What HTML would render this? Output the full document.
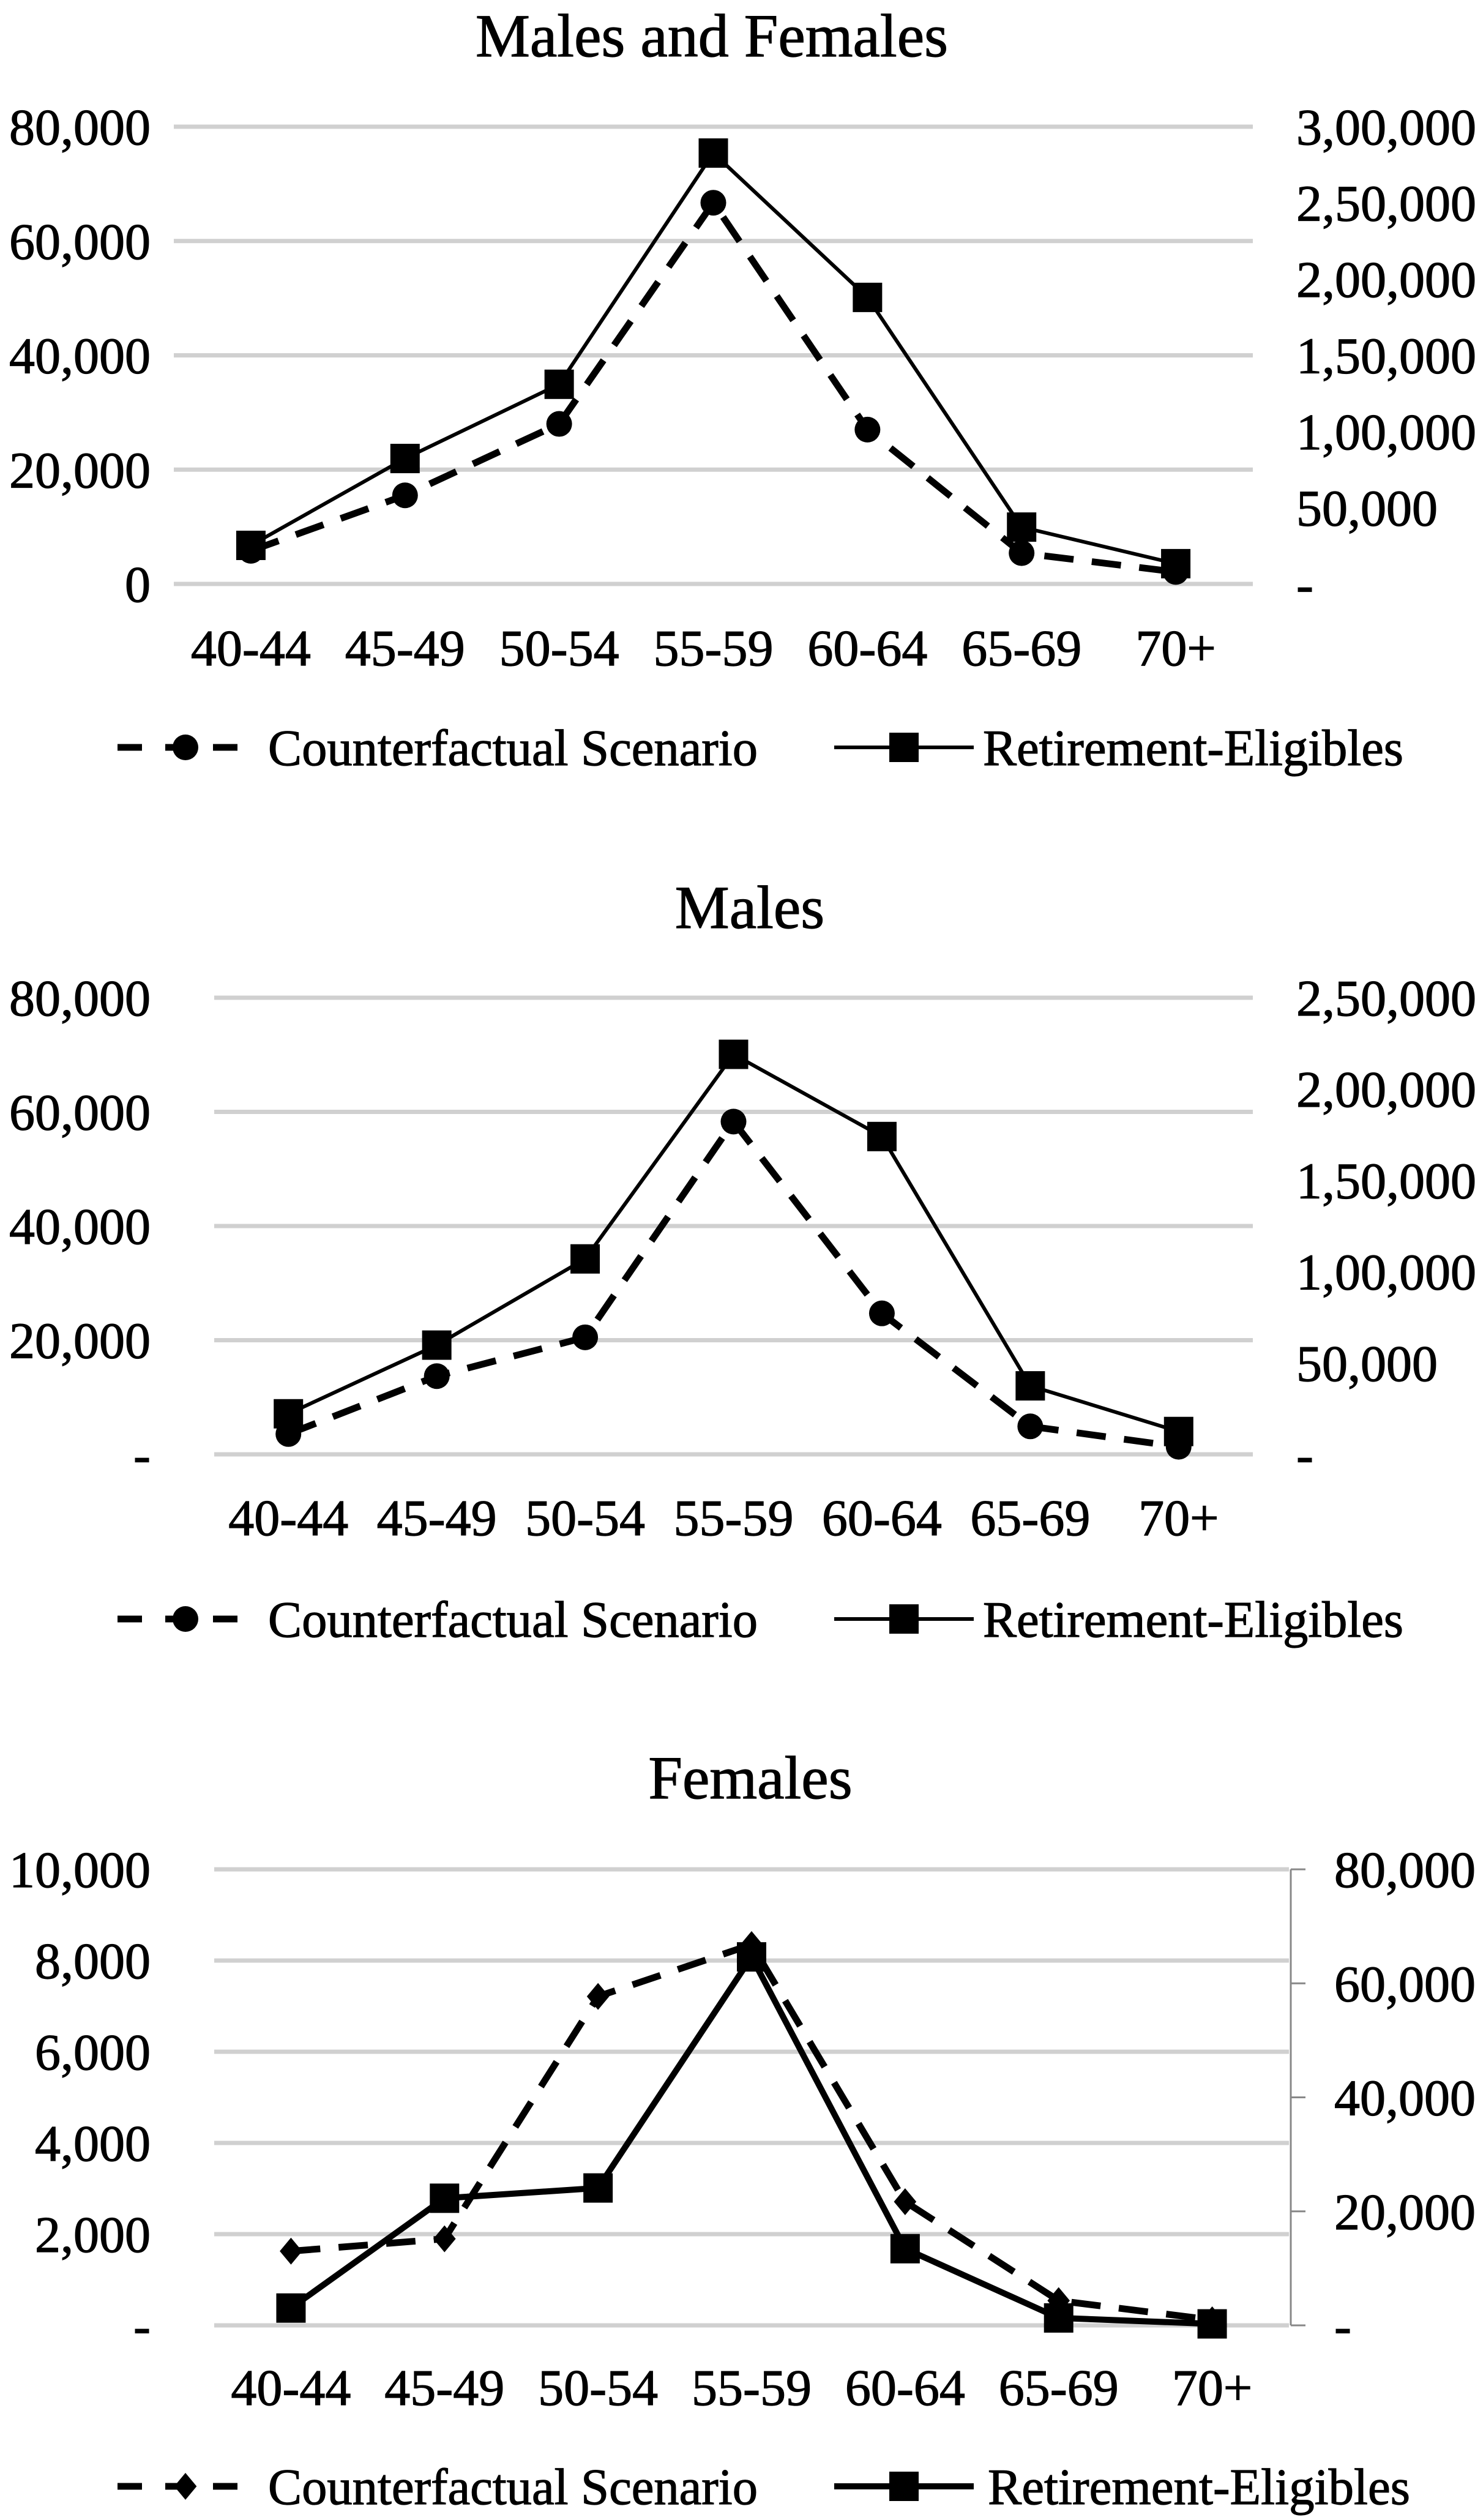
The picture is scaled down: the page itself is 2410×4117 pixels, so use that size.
<!DOCTYPE html>
<html><head><meta charset="utf-8"><style>
html,body{margin:0;padding:0;background:#fff;}
svg{display:block;}
text{font-family:"Liberation Serif","Times New Roman",serif;fill:#000;}
</style></head><body>
<svg id="root" xmlns="http://www.w3.org/2000/svg" width="2410" height="4117" viewBox="0 0 2410 4117"></svg>
<script>
const categories = ["40-44","45-49","50-54","55-59","60-64","65-69","70+"];
// Chart 1: Males and Females
const c1Counterfactual = [5800, 15500, 28000, 66700, 27000, 5400, 2100];
const c1Retirement = [25300, 82300, 131000, 282700, 188000, 37300, 13300];
const c1LeftTicks = ["0","20,000","40,000","60,000","80,000"];
const c1LeftTickValues = [0,20000,40000,60000,80000];
const c1RightTicks = ["-","50,000","1,00,000","1,50,000","2,00,000","2,50,000","3,00,000"];
const c1RightTickValues = [0,50000,100000,150000,200000,250000,300000];
// Chart 2: Males
const c2Counterfactual = [3560, 13700, 20500, 58300, 24700, 4900, 1330];
const c2Retirement = [22200, 59800, 107000, 219000, 174000, 37500, 12500];
const c2LeftTicks = ["-","20,000","40,000","60,000","80,000"];
const c2LeftTickValues = [0,20000,40000,60000,80000];
const c2RightTicks = ["-","50,000","1,00,000","1,50,000","2,00,000","2,50,000"];
const c2RightTickValues = [0,50000,100000,150000,200000,250000];
// Chart 3: Females
const c3Counterfactual = [1627, 1898, 7213, 8351, 2711, 542, 120];
const c3Retirement = [3037, 22300, 24100, 64640, 13450, 1300, 260];
const c3LeftTicks = ["-","2,000","4,000","6,000","8,000","10,000"];
const c3LeftTickValues = [0,2000,4000,6000,8000,10000];
const c3RightTicks = ["-","20,000","40,000","60,000","80,000"];
const c3RightTickValues = [0,20000,40000,60000,80000];

const NS = "http://www.w3.org/2000/svg";
const root = document.getElementById("root");
function mk(tag, attrs, parent){
  const e = document.createElementNS(NS, tag);
  for (const k in attrs) e.setAttribute(k, attrs[k]);
  (parent||root).appendChild(e);
  return e;
}
function marker(g, kind, x, y, s){
  let m;
  if (kind==="square"){
    m = mk("rect",{x:x-s/2,y:y-s/2,width:s,height:s,fill:"#000"},g);
  } else if (kind==="circle"){
    m = mk("circle",{cx:x,cy:y,r:s/2,fill:"#000"},g);
  } else {
    m = mk("polygon",{points:`${x},${y-s/2} ${x+s/2.4},${y} ${x},${y+s/2} ${x-s/2.4},${y}`,fill:"#000"},g);
  }
  return m;
}
function txt(g, attrs, s){
  const t = mk("text", Object.assign({stroke:"#000","stroke-width":1.2}, attrs), g);
  t.textContent = s;
  return t;
}
function drawChart(cfg){
  const g = mk("g",{});
  
  
  const n = categories.length;
  const bw = (cfg.plotR - cfg.plotL)/n;
  const xs = i => cfg.plotL + bw*(i+0.5);
  const yl = v => cfg.yBot - (v/cfg.leftMax)*(cfg.yBot-cfg.yTop);
  const yr = v => cfg.yBot - (v/cfg.rightMax)*(cfg.yBot-cfg.yTop);
  const t = txt(g,{x:cfg.titleX,y:cfg.titleY+36,"text-anchor":"middle","font-size":100}, cfg.title);
  
  
  cfg.leftVals.forEach((v,i)=>{
    const gl = mk("line",{x1:cfg.plotL,x2:cfg.plotR,y1:yl(v),y2:yl(v),stroke:"#d0d0d0","stroke-width":7},g);
    
    
    const tl = txt(g,{x:246,y:yl(v)+29,"text-anchor":"end","font-size":84}, cfg.leftTicks[i]);
    
    
  });
  if (cfg.rightAxis){
    const ax = mk("line",{x1:cfg.plotR+3,x2:cfg.plotR+3,y1:cfg.yTop,y2:cfg.yBot,stroke:"#888","stroke-width":3},g);
    
    
  }
  cfg.rightVals.forEach((v,i)=>{
    if (cfg.rightAxis){
      const tk = mk("line",{x1:cfg.plotR+3,x2:cfg.plotR+27,y1:yr(v),y2:yr(v),stroke:"#888","stroke-width":3},g);
      
      
    }
    const tr = txt(g,{x:cfg.rightLabelX,y:yr(v)+29,"text-anchor":"start","font-size":84}, cfg.rightTicks[i]);
    
    
  });
  categories.forEach((c,i)=>{
    const xl = txt(g,{x:xs(i),y:cfg.xLabelY+29,"text-anchor":"middle","font-size":84}, c);
    
    
  });
  const cPts = cfg.counter.map((v,i)=>`${xs(i)},${yl(v)}`).join(" ");
  const cl = mk("polyline",{points:cPts,fill:"none",stroke:"#000","stroke-width":11,"stroke-dasharray":"48 30"},g);
  
  
  cfg.counter.forEach((v,i)=>{
    const m = marker(g, cfg.cMarker, xs(i), yl(v), cfg.cMarker==="circle"?42:44);
    
    
  });
  const rPts = cfg.retire.map((v,i)=>`${xs(i)},${yr(v)}`).join(" ");
  const rl = mk("polyline",{points:rPts,fill:"none",stroke:"#000","stroke-width":cfg.rWidth},g);
  
  
  cfg.retire.forEach((v,i)=>{
    const m = marker(g, "square", xs(i), yr(v), 48);
    
    
  });
  const lg = mk("g",{},g);
  
  
  const ly = cfg.legendY;
  mk("line",{x1:192,x2:415,y1:ly,y2:ly,stroke:"#000","stroke-width":11,"stroke-dasharray":"40 38"},lg);
  marker(lg, cfg.cMarker, 303, ly, cfg.cMarker==="circle"?42:44);
  const lt1 = txt(lg,{x:438,y:ly+29,"font-size":84,textLength:800,lengthAdjust:"spacingAndGlyphs"}, "Counterfactual Scenario");
  
  
  mk("line",{x1:1363,x2:1591,y1:ly,y2:ly,stroke:"#000","stroke-width":cfg.rWidth},lg);
  marker(lg, "square", 1477, ly, 48);
  const lt2 = txt(lg,{x:cfg.leg2X,y:ly+29,"font-size":84,textLength:cfg.leg2W,lengthAdjust:"spacingAndGlyphs"}, "Retirement-Eligibles");
  
  
}
drawChart({name:"chart-males-and-females",title:"Males and Females",titleX:1163,titleY:56,
  plotL:284,plotR:2047,yTop:207,yBot:954,leftMax:80000,rightMax:300000,
  leftTicks:c1LeftTicks,leftVals:c1LeftTickValues,rightTicks:c1RightTicks,rightVals:c1RightTickValues,
  rightLabelX:2118,rightAxis:false,xLabelY:1058,legendY:1221,leg2X:1606,leg2W:687,
  counter:c1Counterfactual,retire:c1Retirement,cMarker:"circle",rWidth:6});
drawChart({name:"chart-males",title:"Males",titleX:1225,titleY:1480,
  plotL:350,plotR:2047,yTop:1630,yBot:2376,leftMax:80000,rightMax:250000,
  leftTicks:c2LeftTicks,leftVals:c2LeftTickValues,rightTicks:c2RightTicks,rightVals:c2RightTickValues,
  rightLabelX:2118,rightAxis:false,xLabelY:2479,legendY:2645,leg2X:1606,leg2W:687,
  counter:c2Counterfactual,retire:c2Retirement,cMarker:"circle",rWidth:6});
drawChart({name:"chart-females",title:"Females",titleX:1226,titleY:2902,
  plotL:350,plotR:2106,yTop:3054,yBot:3799,leftMax:10000,rightMax:80000,
  leftTicks:c3LeftTicks,leftVals:c3LeftTickValues,rightTicks:c3RightTicks,rightVals:c3RightTickValues,
  rightLabelX:2180,rightAxis:true,xLabelY:3900,legendY:4062,leg2X:1614,leg2W:690,
  counter:c3Counterfactual,retire:c3Retirement,cMarker:"diamond",rWidth:10});
</script>
</body></html>
